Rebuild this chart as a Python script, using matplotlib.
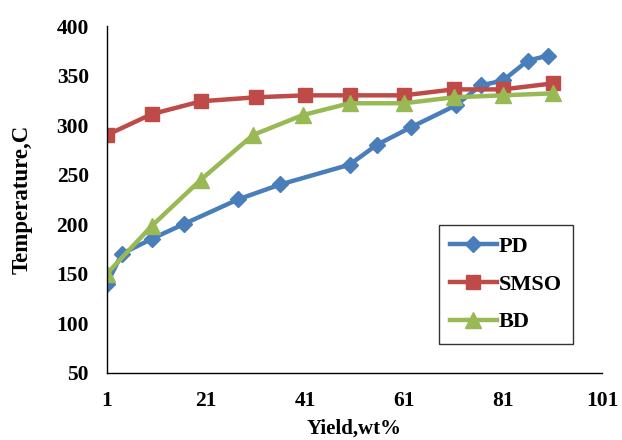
import matplotlib
matplotlib.use("Agg")
import matplotlib.pyplot as plt

# PD series
pd_x = [1, 4, 10, 16.5, 27.5, 36, 50, 55.5, 62.5, 71.5, 76.5, 81, 86, 90]
pd_y = [140, 170, 185, 200, 225, 240, 260, 280, 298, 320, 340, 345, 365, 370]

# SMSO series
smso_x = [1, 10, 20, 31, 41, 50, 61, 71, 81, 91]
smso_y = [290, 311, 324, 328, 330, 330, 330, 336, 336, 342]

# BD series
bd_x = [1, 10, 20, 30.5, 40.5, 50, 61, 71, 81, 91]
bd_y = [150, 198, 245, 290, 310, 322, 322, 328, 330, 332]

x_ticks = [1, 21, 41, 61, 81, 101]
y_ticks = [50, 100, 150, 200, 250, 300, 350, 400]

plt.rcParams["font.family"] = ["Liberation Serif", "DejaVu Serif"]
plt.rcParams["font.weight"] = "bold"

fig = plt.figure(figsize=(6.22, 4.40), dpi=100)
ax = fig.add_axes([107 / 622, 67.3 / 440, 495 / 622, 346.7 / 440])

ax.plot(pd_x, pd_y, color="#4a7ebb", lw=3.2, marker="D", ms=8.5, label="PD")
ax.plot(smso_x, smso_y, color="#be4b48", lw=3.2, marker="s", ms=10, label="SMSO")
ax.plot(bd_x, bd_y, color="#98b954", lw=3.2, marker="^", ms=11, label="BD")

ax.set_xlim(1, 101)
ax.set_ylim(50, 400)
ax.set_xticks(x_ticks)
ax.set_yticks(y_ticks)
ax.tick_params(length=0, labelsize=15.5, pad=13)
for lbl in ax.get_xticklabels() + ax.get_yticklabels():
    lbl.set_fontweight("bold")

for side in ["top", "right"]:
    ax.spines[side].set_visible(False)
for side in ["left", "bottom"]:
    ax.spines[side].set_linewidth(1.0)
    ax.spines[side].set_color("black")

ax.set_xlabel("Yield,wt%", fontsize=15, fontweight="bold", labelpad=6)
ax.set_ylabel("Temperature,C", fontsize=16.5, fontweight="bold", labelpad=17)

leg = ax.legend(loc="upper left", bbox_to_anchor=(332 / 495, 1 - 199 / 346.7),
                fontsize=16, frameon=True, fancybox=False, handlelength=2.1,
                labelspacing=0.78, borderpad=0.5, handletextpad=0.1,
                borderaxespad=0)
leg.get_frame().set_edgecolor("black")
leg.get_frame().set_linewidth(1.0)
for t in leg.get_texts():
    t.set_fontweight("bold")

fig.savefig("out.png", dpi=100)
